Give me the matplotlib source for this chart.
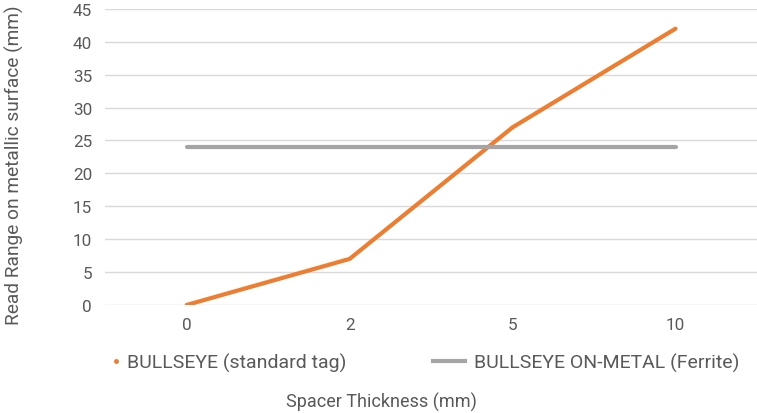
import numpy as np
import matplotlib.pyplot as plt
from matplotlib.lines import Line2D

plt.rcParams['font.family'] = ['Roboto', 'DejaVu Sans']

categories = ["0", "2", "5", "10"]
standard_tag = [0, 7, 27, 42]
on_metal = [24, 24, 24, 24]

orange = "#ED7D31"
grey = "#A5A5A5"
txt = "#595959"

fig = plt.figure(figsize=(7.57, 4.14), dpi=100)
ax = fig.add_axes([0.139, 0.261, 0.861, 0.715])

x = np.arange(len(categories))
ax.plot(x, standard_tag, color=orange, lw=3, solid_capstyle="round", zorder=3)
ax.plot(x, on_metal, color=grey, lw=3, solid_capstyle="round", zorder=3)

ax.set_xlim(-0.5, 3.5)
ax.set_ylim(0, 45)
ax.set_yticks(np.arange(0, 46, 5))
ax.set_xticks(x)
ax.set_xticklabels(categories)
ax.grid(axis="y", color="#D9D9D9", lw=1)
ax.set_axisbelow(True)
for s in ax.spines.values():
    s.set_visible(False)
ax.tick_params(length=0, colors=txt, labelsize=12.3)
ax.tick_params(axis="y", pad=9.5)
ax.tick_params(axis="x", pad=9)

# two separate legends so each entry gets its own handle length
leg1 = fig.legend([Line2D([], [], color=orange, marker="o", markersize=2.5, lw=0)],
                  ["BULLSEYE (standard tag)"], loc="center left",
                  bbox_to_anchor=(0.1466, 0.123), frameon=False, fontsize=14,
                  labelcolor=txt, handlelength=0.5, handletextpad=0.32,
                  borderpad=0, borderaxespad=0)
leg2 = fig.legend([Line2D([], [], color=grey, lw=3)],
                  ["BULLSEYE ON-METAL (Ferrite)"], loc="center left",
                  bbox_to_anchor=(0.572, 0.123), frameon=False, fontsize=14,
                  labelcolor=txt, handlelength=1.65, handletextpad=0.46,
                  borderpad=0, borderaxespad=0)

fig.text(0.504, 0.027, "Spacer Thickness (mm)", ha="center", va="center",
         fontsize=13, color=txt)
fig.text(0.0185, 0.6, "Read Range on metallic surface (mm)", ha="center",
         va="center", rotation=90, fontsize=13.8, color=txt)

fig.savefig("out.png", dpi=100)
